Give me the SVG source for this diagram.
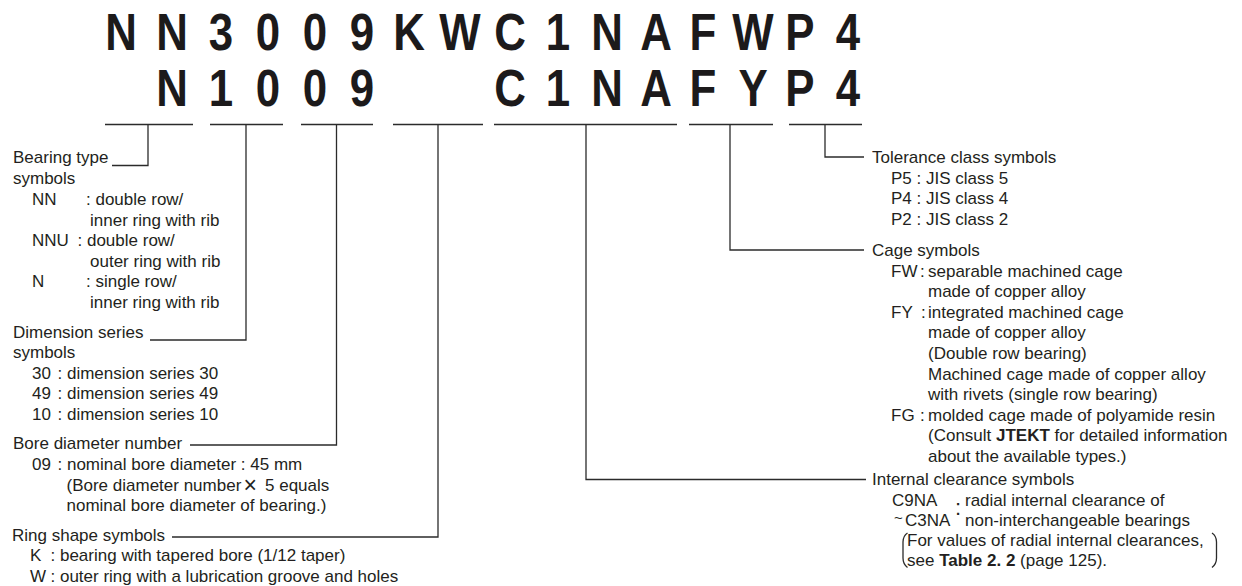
<svg xmlns="http://www.w3.org/2000/svg" width="1242" height="586" viewBox="0 0 1242 586">
<style>
.big{font-family:"Liberation Sans",Arial,sans-serif;font-weight:bold;font-size:51px;fill:#1c1a1b;text-anchor:middle}
.t{font-family:"Liberation Sans",Arial,sans-serif;font-size:17px;fill:#231f20}
.b{font-weight:bold}
.ln{fill:none;stroke:#2b2b2b;stroke-width:1.3}
</style>
<rect width="1242" height="586" fill="#ffffff"/>
<g id="code">
<g transform="scale(0.86,1)">
<text class="big" x="140.7 200 257 311.6 366.3 420.9 475.6 534.9 593 648.8 705.8 762.8 817.4 875.6 930.2 986" y="50">NN3009KWC1NAFWP4</text>
<text class="big" x="200 257 311.6 366.3 420.9 593 648.8 705.8 762.8 817.4 875.6 930.2 986" y="106">N1009C1NAFYP4</text>
</g>
</g>
<g id="connectors" class="ln">
<path d="M105 124.5H193M210 124.5H283M301 124.5H373M393 124.5H483M494 124.5H677M689 124.5H773M789 124.5H862"/>
<path d="M148 124.5V165.5H112"/>
<path d="M246 124.5V340H150"/>
<path d="M336.5 124.5V445H190"/>
<path d="M438 124.5V537H172"/>
<path d="M586 124.5V479.5H866"/>
<path d="M730 124.5V250H864"/>
<path d="M825 124.5V157H864"/>
</g>
<g id="bearing-type" class="t">
<text x="13" y="163">Bearing type</text>
<text x="13" y="184">symbols</text>
<text x="32" y="205">NN</text><text x="86" y="205">: double row/</text>
<text x="90" y="225.5">inner ring with rib</text>
<text x="32" y="246">NNU</text><text x="77.5" y="246">: double row/</text>
<text x="90" y="266.5">outer ring with rib</text>
<text x="32" y="287">N</text><text x="86" y="287">: single row/</text>
<text x="90" y="307.5">inner ring with rib</text>
</g>
<g id="dimension-series" class="t">
<text x="13" y="337.5">Dimension series</text>
<text x="13" y="358">symbols</text>
<text x="32" y="378.5">30</text><text x="57.5" y="378.5">: dimension series 30</text>
<text x="32" y="399">49</text><text x="57.5" y="399">: dimension series 49</text>
<text x="32" y="419.5">10</text><text x="57.5" y="419.5">: dimension series 10</text>
</g>
<g id="bore-diameter" class="t">
<text x="13" y="449">Bore diameter number</text>
<text x="32" y="470">09</text><text x="57.5" y="470">: nominal bore diameter : 45 mm</text>
<text x="66.5" y="490.5">(Bore diameter number<tspan x="243.5" y="493" font-size="23">×</tspan><tspan x="265" y="490.5">5 equals</tspan></text>
<text x="66.5" y="511">nominal bore diameter of bearing.)</text>
</g>
<g id="ring-shape" class="t">
<text x="12" y="540.5">Ring shape symbols</text>
<text x="30" y="561">K</text><text x="50.5" y="561">: bearing with tapered bore (1/12 taper)</text>
<text x="30" y="581.5">W</text><text x="50.5" y="581.5">: outer ring with a lubrication groove and holes</text>
</g>
<g id="tolerance" class="t">
<text x="872" y="162.5">Tolerance class symbols</text>
<text x="891" y="183.5">P5 : JIS class 5</text>
<text x="891" y="204">P4 : JIS class 4</text>
<text x="891" y="224.5">P2 : JIS class 2</text>
</g>
<g id="cage" class="t">
<text x="872" y="256">Cage symbols</text>
<text x="891" y="276.6">FW</text><text x="920" y="276.6">:</text><text x="928" y="276.6">separable machined cage</text>
<text x="928" y="297.2">made of copper alloy</text>
<text x="891" y="317.8">FY</text><text x="921" y="317.8">:</text><text x="928" y="317.8">integrated machined cage</text>
<text x="928" y="338.4">made of copper alloy</text>
<text x="928" y="359">(Double row bearing)</text>
<text x="928" y="379.6">Machined cage made of copper alloy</text>
<text x="928" y="400.2">with rivets (single row bearing)</text>
<text x="891" y="420.8">FG</text><text x="920" y="420.8">:</text><text x="928" y="420.8">molded cage made of polyamide resin</text>
<text x="928" y="441.4">(Consult <tspan class="b">JTEKT</tspan> for detailed information</text>
<text x="928" y="462">about the available types.)</text>
</g>
<g id="internal-clearance" class="t">
<text x="872" y="484.5">Internal clearance symbols</text>
<text x="892" y="506">C9NA</text>
<text x="894" y="522.5" font-size="15">~</text><text x="905" y="526">C3NA</text>
<text x="955" y="515" font-size="22">:</text>
<text x="965" y="506">radial internal clearance of</text>
<text x="965" y="526">non-interchangeable bearings</text>
<text x="907" y="546">For values of radial internal clearances,</text>
<text x="907" y="566">see <tspan class="b">Table 2. 2</tspan> (page 125).</text>
<path class="ln" d="M907.5 533Q903 536 903 542V558Q903 564 907.5 567.5M1212 533Q1216.5 536 1216.5 542V558Q1216.5 564 1212 567.5"/>
</g>
</svg>
